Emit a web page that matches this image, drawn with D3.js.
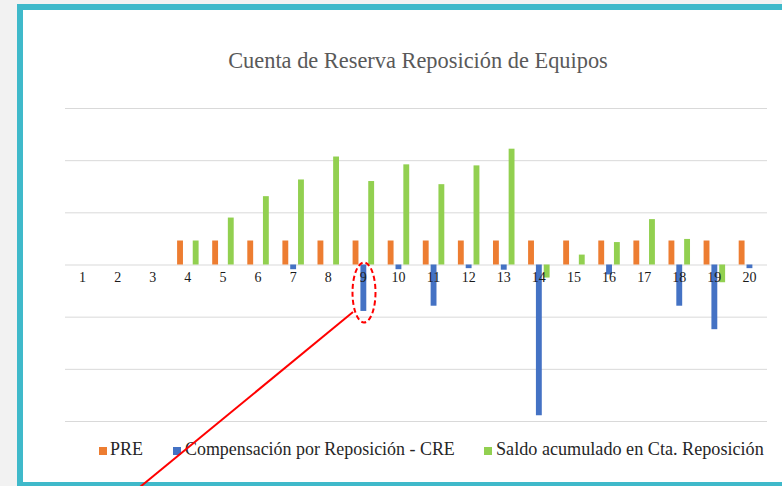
<!DOCTYPE html>
<html><head><meta charset="utf-8">
<script src="https://cdn.jsdelivr.net/npm/d3@7"></script>
<style>
html,body{margin:0;padding:0;background:#f2f2f2;}
svg{display:block;}
svg text{font-family:"Liberation Serif","DejaVu Serif",serif;}
</style></head>
<body>
<svg id="chart" width="782" height="486"></svg>
<script>
// ---- data (arbitrary units: one gridline step = 1) ----
const categories = ["1","2","3","4","5","6","7","8","9","10","11","12","13","14","15","16","17","18","19","20"];
const seriesNames = ["PRE", "Compensación por Reposición - CRE", "Saldo acumulado en Cta. Reposición"];
const pre   = [0,0,0,0.46,0.46,0.46,0.46,0.46,0.46,0.46,0.46,0.46,0.46,0.46,0.46,0.46,0.46,0.46,0.46,0.46];
const cre   = [0,0,0,0,0,0,-0.09,0,-0.89,-0.09,-0.79,-0.07,-0.10,-2.89,0,-0.19,0,-0.79,-1.24,-0.07];
const saldo = [0,0,0,0.46,0.90,1.31,1.63,2.07,1.60,1.92,1.54,1.90,2.22,-0.25,0.19,0.43,0.87,0.49,-0.34,0];
const yTicks = [-3,-2,-1,0,1,2,3];
const colors = ["#ED7D31", "#4472C4", "#92D050"];
const title = "Cuenta de Reserva Reposición de Equipos";

const svg = d3.select("#chart");
const W = 782, H = 486;

// frame
svg.append("rect").attr("x",0).attr("y",0).attr("width",W).attr("height",H).attr("fill","#f2f2f2");
svg.append("rect").attr("x",17).attr("y",4).attr("width",W+20).attr("height",H+20).attr("fill","#3fb9ca");
svg.append("rect").attr("x",23).attr("y",10).attr("width",W).attr("height",472).attr("fill","#ffffff");

const plot = {left:65, right:767, top:108, bottom:421};
const x0 = d3.scaleBand().domain(categories).range([plot.left, plot.right]).paddingInner(0.387).paddingOuter(0.1935);
const x1 = d3.scaleBand().domain(seriesNames).range([0, x0.bandwidth()]).paddingInner(0.25);
const y = d3.scaleLinear().domain([-3, 3]).range([plot.bottom, plot.top]);

// gridlines
const grid = d3.axisLeft(y).tickValues(yTicks).tickSize(-(plot.right-plot.left)).tickFormat("");
const gg = svg.append("g").attr("transform",`translate(${plot.left},0)`).call(grid);
gg.select(".domain").remove();
gg.selectAll(".tick line").attr("stroke","#d9d9d9").attr("stroke-width",1);

// bars
const series = [pre, cre, saldo];
series.forEach((vals, si) => {
  svg.append("g").selectAll("rect").data(vals.map((v,i)=>({cat:categories[i], v})))
    .join("rect")
    .filter(d => d.v !== 0)
    .attr("x", d => x0(d.cat) + x1(seriesNames[si]))
    .attr("width", x1.bandwidth())
    .attr("y", d => y(Math.max(0, d.v)))
    .attr("height", d => Math.abs(y(d.v) - y(0)))
    .attr("fill", colors[si]);
});

// category axis labels
const xAxis = d3.axisBottom(x0).tickSize(0).tickPadding(0);
const xa = svg.append("g").attr("transform",`translate(0,${y(0)+13})`).call(xAxis);
xa.select(".domain").remove();
xa.selectAll("text").style("font-family","'Liberation Serif', serif").attr("font-size",14).attr("fill","#1a1a1a").attr("dy","0.32em");

// title
const t = svg.append("text").attr("x", 418).attr("y", 68).attr("text-anchor","middle")
  .style("font-family","'Liberation Serif', serif").attr("font-size",20).attr("fill","#595959").text(title);
const tw = t.node().getComputedTextLength();
t.attr("font-size", 20*380/tw);

// legend
const legendItems = [
  {x:99, tx:110, w:33},
  {x:173, tx:185, w:270},
  {x:484, tx:496, w:268}
];
const lg = svg.append("g");
seriesNames.forEach((name, i) => {
  const it = legendItems[i];
  lg.append("rect").attr("x", it.x).attr("y", 447).attr("width", 8).attr("height", 8).attr("fill", colors[i]);
  const lt = lg.append("text").attr("x", it.tx).attr("y", 455)
    .style("font-family","'Liberation Serif', serif")
    .attr("font-size", 17).attr("fill","#262626").text(name);
  const w = lt.node().getComputedTextLength();
  lt.attr("font-size", 17*it.w/w);
});

// red annotation
svg.append("ellipse").attr("cx",364).attr("cy",292.5).attr("rx",11.5).attr("ry",30)
  .attr("fill","none").attr("stroke","#ff0000").attr("stroke-width",2).attr("stroke-dasharray","5,3");
svg.append("line").attr("x1",353).attr("y1",312).attr("x2",140).attr("y2",487)
  .attr("stroke","#ff0000").attr("stroke-width",2);
</script>
</body></html>
